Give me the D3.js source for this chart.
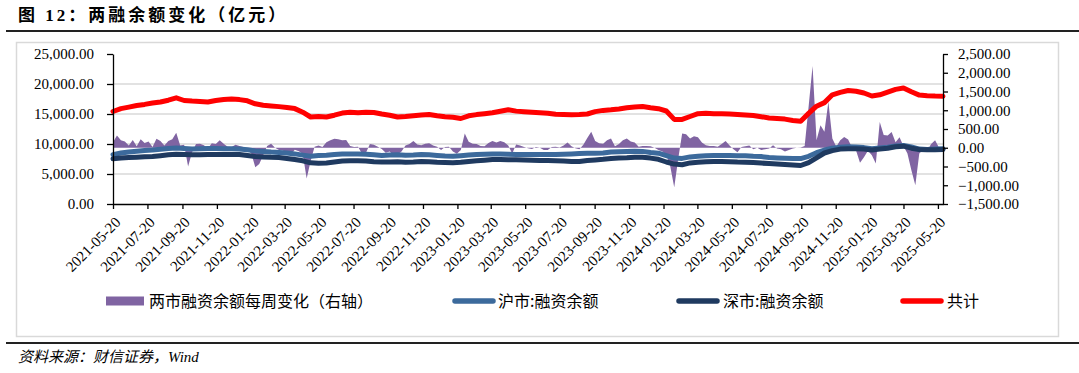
<!DOCTYPE html>
<html>
<head>
<meta charset="utf-8">
<script src="https://cdn.jsdelivr.net/npm/d3@7"></script>
<style>
    body { margin: 0; background: #fff; }
    svg { display: block; }
    .axis text { font-family: "Liberation Serif", serif; font-size: 15px; fill: #000; }
    .axis path, .axis line { stroke: #000; stroke-width: 1.3; }
</style>
</head>
<body>
<svg width="1079" height="373"></svg>
<script>
// DATA

const firstDate = '2021-05-20';
const lastDate = '2025-05-29';

// weekly change of margin financing, both markets (right axis), one value per week from firstDate
const weeklyChange = [
    150, 330, 200, 170, 60, 210, 40, 230, 130, 170,
    20, 240, 180, 60, 180, 230, 400, 60, 80, -500,
    -120, 100, 110, 70, -20, 120, 100, 200, 110, 30,
    20, 80, 50, 20, -60, -150, -520, -430, -200, 50,
    110, 0, -60, -70, -150, -170, -50, -90, -160, -820,
    -350, 30, 60, 20, 150, 200, 240, 230, 200, 210,
    50, 20, 30, -160, -130, 100, 80, 30, -30, -130,
    -100, -200, -180, -100, 60, 100, 180, 90, 70, 110,
    120, 60, 30, -60, 20, 30, -100, -160, -60, 380,
    160, 110, 100, 50, 40, 130, 180, 140, 180, 150,
    60, -150, 90, 60, 20, -10, -30, 20, 0, -60,
    -60, 20, 30, 10, 60, 140, 40, -10, -40, 80,
    260, 430, 180, 120, 110, 200, 250, 40, 100, 200,
    250, 170, 140, 30, 50, 50, 40, 0, -60, -100,
    -180, -500, -1050, -300, 380, 360, 250, 310, 280, 140,
    70, 50, 50, 30, 100, 180, 60, -40, -120, 20,
    40, 60, -40, 0, -60, -40, -20, 70, -20, -40,
    -100, -60, -20, 0, 10, 50, 1100, 2180, 200, 600,
    430, 1230, 250, 30, 200, 290, 220, 0, -70, -400,
    -250, -80, -200, -420, 690, 340, 330, 420, 150, 280,
    50, -150, -600, -1000, -150, -50, -80, 100, 200, 0, 10
];

// balances (left axis), one value every two weeks from firstDate
const shBalance = [
    8230, 8500, 8680, 8800, 8930, 9000, 9130, 9250, 9340, 9250,
    9180, 9200, 9230, 9230, 9210, 9190, 9180, 9050, 8850, 8750,
    8650, 8600, 8500, 8350, 8150, 7950, 8100, 8130, 8250, 8340,
    8340, 8340, 8300, 8200, 8100, 8150, 8200, 8130, 8150, 8230,
    8200, 8100, 8000, 7960, 8050, 8150, 8250, 8300, 8340, 8350,
    8300, 8240, 8230, 8230, 8230, 8230, 8230, 8300, 8340, 8400,
    8450, 8450, 8500, 8650, 8700, 8750, 8790, 8770, 8600, 8470,
    8050, 7650, 7600, 7850, 7950, 8050, 8070, 8070, 8070, 8050,
    8030, 7950, 7900, 7750, 7680, 7630, 7580, 7570, 7950, 8550,
    9000, 9300, 9450, 9530, 9500, 9400, 9200, 9350, 9480, 9650,
    9750, 9500, 9150, 9090, 9150, 9190
];

const szBalance = [
    7530, 7650, 7750, 7800, 7870, 7920, 8050, 8200, 8300, 8250,
    8200, 8220, 8250, 8250, 8250, 8250, 8250, 8080, 7920, 7850,
    7780, 7750, 7600, 7420, 7200, 6860, 6810, 6850, 7000, 7150,
    7190, 7190, 7150, 7050, 7000, 6980, 7050, 6970, 7000, 7080,
    7050, 6950, 6900, 6860, 6950, 7100, 7200, 7300, 7400, 7420,
    7380, 7360, 7330, 7300, 7270, 7250, 7200, 7150, 7090, 7100,
    7250, 7350, 7450, 7600, 7650, 7700, 7780, 7800, 7650, 7450,
    7000, 6650, 6550, 6850, 6950, 7050, 7080, 7080, 7050, 6990,
    6970, 6900, 6820, 6750, 6680, 6600, 6500, 6420, 6900, 7700,
    8500, 8900, 9150, 9200, 9200, 9150, 9000, 9150, 9300, 9550,
    9640, 9300, 9080, 9030, 9050, 9080
];

const totalBalance = [
    15420, 15900, 16150, 16420, 16600, 16820, 17000, 17300, 17700, 17250,
    17150, 17100, 17000, 17250, 17420, 17500, 17400, 17200, 16700, 16450,
    16350, 16230, 16080, 15900, 15300, 14500, 14580, 14500, 14800, 15150,
    15300, 15200, 15300, 15250, 15000, 14800, 14500, 14580, 14700, 14820,
    14920, 14700, 14550, 14450, 14250, 14700, 14900, 15050, 15200, 15450,
    15700, 15480, 15380, 15300, 15200, 15120, 14950, 14900, 14860, 14900,
    15000, 15400, 15600, 15700, 15850, 16030, 16150, 16250, 16050, 15880,
    15500, 14100, 14100, 14580, 15050, 15140, 15030, 15030, 15000, 14900,
    14820, 14750, 14550, 14330, 14250, 14150, 13920, 13800, 15100, 16300,
    16900, 18200, 18600, 18920, 18800, 18500, 18000, 18200, 18650, 19100,
    19330, 18700, 18150, 18050, 17980, 17970
];

const xTickLabels = [
    '2021-05-20', '2021-07-20', '2021-09-20', '2021-11-20', '2022-01-20',
    '2022-03-20', '2022-05-20', '2022-07-20', '2022-09-20', '2022-11-20',
    '2023-01-20', '2023-03-20', '2023-05-20', '2023-07-20', '2023-09-20',
    '2023-11-20', '2024-01-20', '2024-03-20', '2024-05-20', '2024-07-20',
    '2024-09-20', '2024-11-20', '2025-01-20', '2025-03-20', '2025-05-20'
];
const leftTicks = [0, 5000, 10000, 15000, 20000, 25000];
const rightTicks = [-1500, -1000, -500, 0, 500, 1000, 1500, 2000, 2500];

const seriesNames = ['两市融资余额每周变化（右轴）', '沪市:融资余额', '深市:融资余额', '共计'];

const titleText = '图 12：两融余额变化（亿元）';
const sourceText = '资料来源：财信证券，Wind';

// SIZES

const plot = { left: 113, right: 943, top: 54, bottom: 204 };

const colors = {
    change: '#8064A2',
    sh: '#3C6A9C',
    sz: '#1F3A60',
    total: '#FF0000',
    grid: '#D9D9D9',
};

var svg = d3.select('svg');
var parseDate = d3.timeParse('%Y-%m-%d');
var start = parseDate(firstDate);

var weekDates = weeklyChange.map((d, i) => d3.timeDay.offset(start, i * 7));
var biweekDates = shBalance.map((d, i) => d3.timeDay.offset(start, i * 14));

// SCALES

var x = d3.scaleTime()
    .domain([start, parseDate(lastDate)])
    .range([plot.left, plot.right]);
var yLeft = d3.scaleLinear().domain([0, 25000]).range([plot.bottom, plot.top]);
var yRight = d3.scaleLinear().domain([-1500, 2500]).range([plot.bottom, plot.top]);

// FRAME

svg.append('text')
    .attr('x', 18)
    .attr('y', 21)
    .attr('font-family', '"Liberation Serif", "Noto Sans CJK SC"')
    .attr('font-weight', 'bold')
    .attr('font-size', 17)
    .attr('letter-spacing', 3)
    .text(titleText);

svg.append('line')
    .attr('x1', 6).attr('x2', 1079)
    .attr('y1', 31).attr('y2', 31)
    .attr('stroke', '#222').attr('stroke-width', 2);

svg.append('rect')
    .attr('x', 16.5).attr('y', 42.5)
    .attr('width', 1042).attr('height', 294)
    .attr('fill', 'none')
    .attr('stroke', '#D9D9D9')
    .attr('stroke-width', 1.5);

svg.append('line')
    .attr('x1', 6).attr('x2', 1079)
    .attr('y1', 343).attr('y2', 343)
    .attr('stroke', '#222').attr('stroke-width', 2);

svg.append('text')
    .attr('x', 18)
    .attr('y', 362)
    .attr('font-family', '"Liberation Serif", "Noto Sans CJK SC"')
    .attr('font-style', 'italic')
    .attr('font-size', 15)
    .text(sourceText);

// GRID

svg.append('g')
    .selectAll('line')
    .data(leftTicks.filter(d => d > 0 && d < 25000))
    .join('line')
    .attr('x1', plot.left).attr('x2', plot.right)
    .attr('y1', d => yLeft(d)).attr('y2', d => yLeft(d))
    .attr('stroke', colors.grid)
    .attr('stroke-width', 1.5);

// SERIES

var changeArea = d3.area()
    .x((d, i) => x(weekDates[i]))
    .y0(yRight(0))
    .y1(d => yRight(d));

svg.append('path')
    .datum(weeklyChange)
    .attr('d', changeArea)
    .attr('fill', colors.change);

var balanceLine = d3.line()
    .x((d, i) => x(biweekDates[i]))
    .y(d => yLeft(d));

[[shBalance, colors.sh], [szBalance, colors.sz], [totalBalance, colors.total]].forEach(s => {
    svg.append('path')
        .datum(s[0])
        .attr('d', balanceLine)
        .attr('fill', 'none')
        .attr('stroke', s[1])
        .attr('stroke-width', 5)
        .attr('stroke-linejoin', 'round')
        .attr('stroke-linecap', 'round');
});

// AXES

svg.append('g')
    .attr('class', 'axis')
    .attr('transform', 'translate(' + plot.left + ',0)')
    .call(d3.axisLeft(yLeft)
        .tickValues(leftTicks)
        .tickFormat(d3.format(',.2f'))
        .tickSize(6)
        .tickSizeOuter(0)
        .tickPadding(13));

svg.append('g')
    .attr('class', 'axis')
    .attr('transform', 'translate(' + plot.right + ',0)')
    .call(d3.axisRight(yRight)
        .tickValues(rightTicks)
        .tickFormat(d3.format(',.2f'))
        .tickSize(5)
        .tickSizeOuter(0)
        .tickPadding(10));

var gBottom = svg.append('g')
    .attr('class', 'axis')
    .attr('transform', 'translate(0,' + plot.bottom + ')')
    .call(d3.axisBottom(x)
        .tickValues(xTickLabels.map(parseDate))
        .tickFormat(d3.timeFormat('%Y-%m-%d'))
        .tickSize(5)
        .tickSizeOuter(0));

gBottom.selectAll('text')
    .attr('text-anchor', 'end')
    .attr('x', -8)
    .attr('y', 14)
    .attr('dy', '0.35em')
    .attr('transform', 'rotate(-45)');

// LEGEND

var legendY = 301;
var legend = svg.append('g')
    .attr('font-family', '"Noto Sans CJK SC", sans-serif')
    .attr('font-size', 16);

legend.append('rect')
    .attr('x', 106).attr('y', legendY - 4.5)
    .attr('width', 38).attr('height', 9)
    .attr('fill', colors.change);

[[455, colors.sh], [679, colors.sz], [903, colors.total]].forEach(l => {
    legend.append('line')
        .attr('x1', l[0]).attr('x2', l[0] + 38)
        .attr('y1', legendY).attr('y2', legendY)
        .attr('stroke', l[1])
        .attr('stroke-width', 5.5)
        .attr('stroke-linecap', 'round');
});

legend.selectAll('text')
    .data(seriesNames)
    .join('text')
    .attr('x', (d, i) => [149, 498, 723, 947][i])
    .attr('y', legendY)
    .attr('dy', '0.35em')
    .text(d => d);
</script>
</body>
</html>
